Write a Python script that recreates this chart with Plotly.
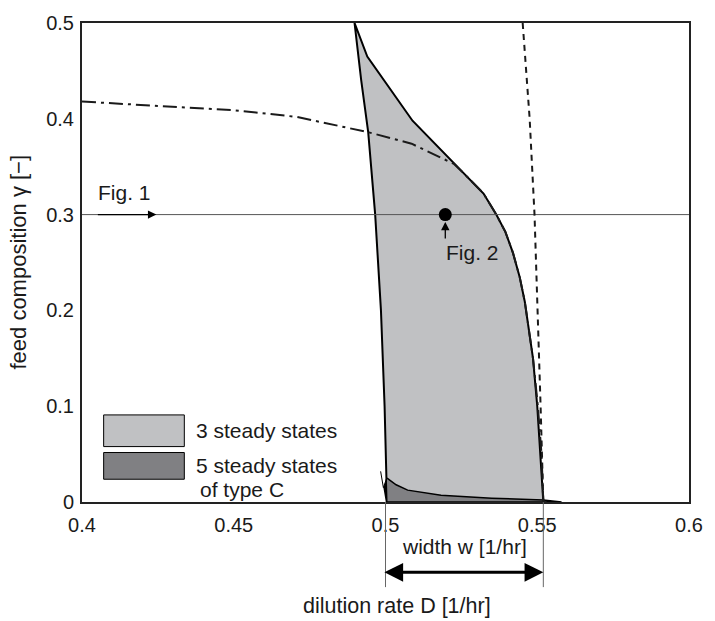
import plotly.graph_objects as go

# ---------------- data ----------------
# left boundary of the 3-steady-state region (D, gamma)
left_D = [0.4898, 0.4920, 0.4943, 0.4966, 0.4985, 0.4997, 0.5003, 0.5005]
left_g = [0.500, 0.440, 0.386, 0.300, 0.200, 0.100, 0.025, 0.000]
# right boundary of the 3-steady-state region (top -> bottom)
right_D = [0.4898, 0.4940, 0.5089, 0.5258, 0.5323, 0.5365, 0.5395, 0.5420, 0.5442, 0.5459, 0.5473, 0.5486, 0.5500, 0.5510, 0.5520]
right_g = [0.500, 0.465, 0.398, 0.343, 0.322, 0.300, 0.282, 0.260, 0.235, 0.209, 0.180, 0.150, 0.100, 0.050, 0.000]
# upper boundary of the 5-steady-state (type C) region
c_D = [0.5005, 0.5035, 0.5073, 0.5183, 0.5350, 0.5520, 0.5580]
c_g = [0.025, 0.018, 0.0124, 0.007, 0.004, 0.002, 0.000]
# small cusp at the left end of the type C region
cusp_D = [0.4984, 0.4993, 0.5003, 0.5005, 0.5001]
cusp_g = [0.032, 0.015, 0.024, 0.000, 0.000]
# dash-dot curve
dd_D = [0.4000, 0.4499, 0.4707, 0.4943, 0.5086, 0.5225, 0.5258, 0.5323, 0.5365, 0.5395, 0.5420, 0.5442, 0.5459, 0.5473, 0.5486, 0.5502, 0.5514, 0.5520]
dd_g = [0.418, 0.409, 0.402, 0.386, 0.374, 0.353, 0.343, 0.322, 0.300, 0.282, 0.260, 0.235, 0.209, 0.180, 0.150, 0.100, 0.050, 0.000]
# dashed curve
da_D = [0.5452, 0.5475, 0.5491, 0.5502, 0.5511, 0.5520]
da_g = [0.500, 0.400, 0.300, 0.200, 0.100, 0.000]
# operating line and point
gamma_line = 0.3
point_D, point_g = 0.5197, 0.3
# width markers
w_left, w_right = 0.5, 0.552

x_ticks = [0.4, 0.45, 0.5, 0.55, 0.6]
x_labels = ["0.4", "0.45", "0.5", "0.55", "0.6"]
y_ticks = [0, 0.1, 0.2, 0.3, 0.4, 0.5]
y_labels = ["0", "0.1", "0.2", "0.3", "0.4", "0.5"]

LIGHT = "#c0c1c3"
DARK = "#808083"
FONT = "Liberation Sans, Arial, sans-serif"
W, H = 715, 621
ML, MR, MT, MB = 82, 16, 18, 119
XR = [0.4, 0.6]
YR = [0, 0.5]
PW, PH = W - ML - MR, H - MT - MB


def px_x(px):
    return (px - ML) / PW


def px_y(py):
    return (H - MB - py) / PH


def dx(x):
    return (x - XR[0]) / (XR[1] - XR[0])


fig = go.Figure()

# light region
reg_D = left_D[::-1] + right_D
reg_g = left_g[::-1] + right_g
fig.add_trace(go.Scatter(x=reg_D, y=reg_g, mode="lines", fill="toself",
                         fillcolor=LIGHT, line=dict(color="black", width=2),
                         hoverinfo="skip", showlegend=False))
# dark region
fig.add_trace(go.Scatter(x=c_D + [c_D[0]], y=c_g + [0.0], mode="lines", fill="toself",
                         fillcolor=DARK, line=dict(color="black", width=1.5),
                         hoverinfo="skip", showlegend=False))
fig.add_trace(go.Scatter(x=cusp_D, y=cusp_g, mode="lines", fill="toself",
                         fillcolor="black", line=dict(color="black", width=1),
                         hoverinfo="skip", showlegend=False))
# horizontal line gamma = 0.3
fig.add_trace(go.Scatter(x=XR, y=[gamma_line, gamma_line], mode="lines",
                         line=dict(color="#555555", width=1), hoverinfo="skip", showlegend=False))
# dash-dot curve
fig.add_trace(go.Scatter(x=dd_D, y=dd_g, mode="lines",
                         line=dict(color="#1a1a1a", width=2, dash="14px,5px,3px,5px"),
                         hoverinfo="skip", showlegend=False))
# dashed curve
fig.add_trace(go.Scatter(x=da_D, y=da_g, mode="lines",
                         line=dict(color="#1a1a1a", width=2, dash="6px,5px"),
                         hoverinfo="skip", showlegend=False))
# operating point
fig.add_trace(go.Scatter(x=[point_D], y=[point_g], mode="markers",
                         marker=dict(color="black", size=13), hoverinfo="skip", showlegend=False))

shapes = []
# legend boxes
shapes.append(dict(type="rect", xref="paper", yref="paper", x0=px_x(104), x1=px_x(186),
                   y0=px_y(446), y1=px_y(414), fillcolor=LIGHT, line=dict(color="black", width=1)))
shapes.append(dict(type="rect", xref="paper", yref="paper", x0=px_x(104), x1=px_x(186),
                   y0=px_y(479), y1=px_y(452), fillcolor=DARK, line=dict(color="black", width=1)))
# width marker lines
for xv in (w_left, w_right):
    shapes.append(dict(type="line", xref="paper", yref="paper", x0=dx(xv), x1=dx(xv),
                       y0=0, y1=px_y(588), line=dict(color="#666666", width=1)))

ann = []
txt = dict(family=FONT, size=21, color="#1a1a1a")
ann.append(dict(xref="paper", yref="paper", x=px_x(196), y=px_y(430), text="3 steady states",
                showarrow=False, xanchor="left", yanchor="middle", font=txt))
ann.append(dict(xref="paper", yref="paper", x=px_x(196), y=px_y(465), text="5 steady states",
                showarrow=False, xanchor="left", yanchor="middle", font=txt))
ann.append(dict(xref="paper", yref="paper", x=px_x(200), y=px_y(489), text="of type C",
                showarrow=False, xanchor="left", yanchor="middle", font=txt))
# Fig. 1
ann.append(dict(xref="paper", yref="paper", x=px_x(96), y=px_y(189), text="Fig. 1",
                showarrow=False, xanchor="left", yanchor="middle", font=txt))
ann.append(dict(xref="x", yref="y", x=0.4245, y=gamma_line, ax=-60, ay=0, text="",
                showarrow=True, arrowhead=2, arrowsize=1.3, arrowwidth=1.3, arrowcolor="black",
                standoff=0))
# Fig. 2
ann.append(dict(xref="x", yref="y", x=point_D, y=px_y(219) * 0.5, ax=0, ay=18, text="",
                showarrow=True, arrowhead=2, arrowsize=1.3, arrowwidth=1.3, arrowcolor="black",
                standoff=0))
ann.append(dict(xref="x", yref="paper", x=point_D, y=px_y(250), text="Fig. 2",
                showarrow=False, xanchor="left", yanchor="middle", font=txt, xshift=-1))
# width w
ann.append(dict(xref="paper", yref="paper", x=(dx(w_left) + dx(w_right)) / 2, y=px_y(547),
                text="width w [1/hr]", showarrow=False, xanchor="center", yanchor="middle", font=txt))
ann.append(dict(xref="paper", yref="paper", x=dx(w_right), y=px_y(573), ax=-(dx(w_right) - dx(w_left)) * PW,
                ay=0, text="", showarrow=True, arrowhead=2, arrowside="end+start", arrowsize=1.25,
                arrowwidth=3, arrowcolor="black", standoff=0, startstandoff=0))
# axis titles
ann.append(dict(xref="paper", yref="paper", x=px_x(402), y=px_y(607),
                text="dilution rate D [1/hr]", showarrow=False, xanchor="center", yanchor="middle",
                font=dict(family=FONT, size=21.5, color="#1a1a1a")))
ann.append(dict(xref="paper", yref="paper", x=px_x(17), y=0.5, textangle=-90,
                text="feed composition γ [−]", showarrow=False, xanchor="center", yanchor="middle",
                font=dict(family=FONT, size=22, color="#1a1a1a")))

fig.update_layout(
    width=W, height=H, margin=dict(l=ML, r=MR, t=MT, b=MB),
    paper_bgcolor="white", plot_bgcolor="white",
    shapes=shapes, annotations=ann,
    font=dict(family=FONT, size=20, color="#1a1a1a"),
    showlegend=False,
)
fig.update_xaxes(range=XR, tickvals=x_ticks, ticktext=x_labels, showgrid=False, zeroline=False,
                 showline=True, linecolor="#222222", linewidth=2, mirror=True, ticks="",
                 ticklabelstandoff=4, tickfont=dict(family=FONT, size=20, color="#1a1a1a"))
fig.update_yaxes(range=YR, tickvals=y_ticks, ticktext=y_labels, showgrid=False, zeroline=False,
                 showline=True, linecolor="#222222", linewidth=2, mirror=True, ticks="",
                 ticklabelstandoff=2, tickfont=dict(family=FONT, size=20, color="#1a1a1a"))

fig.write_html("out.html")
